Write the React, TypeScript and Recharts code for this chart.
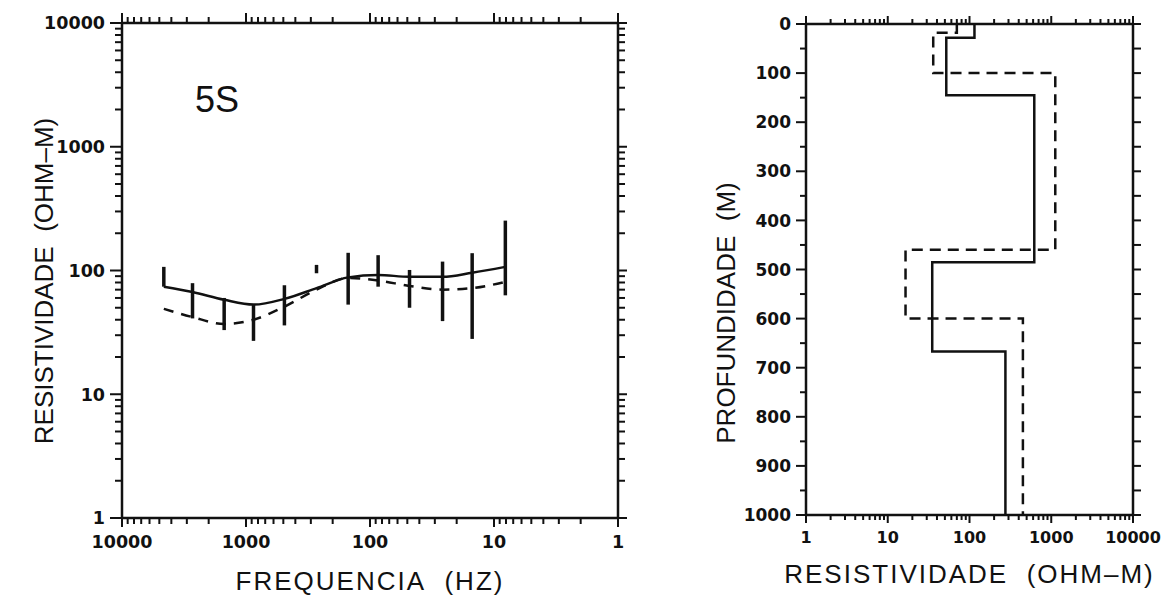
import React from 'react';
import { ComposedChart, Line, Scatter, ErrorBar, XAxis, YAxis } from 'recharts';

// sounding 5S - frequencies of the measured points (Hz)
const frequencies = [4600, 2700, 1500, 870, 490, 270, 150, 86, 48, 26, 15, 8.1];
// measured apparent resistivity, ends of each error bar (ohm-m)
const rhoLow = [74, 41, 33, 27, 36, 95, 53, 74, 50, 39, 28, 63];
const rhoHigh = [107, 79, 60, 53, 76, 111, 139, 133, 101, 118, 138, 253];
// model responses
const rhoSolidFit = [74, 67, 58, 53, 59, 72, 88, 92, 89, 89, 96, 107];
const rhoDashedFit = [49, 42, 37, 40, 51, 70, 87, 83, 75, 70, 72, 81];

// layered models: resistivity of each layer and depth of its top (m)
const solidLayerRho = [115, 52, 620, 35, 275];
const solidLayerTop = [0, 28, 145, 485, 667];
const dashedLayerRho = [70, 36, 1120, 16.5, 450];
const dashedLayerTop = [0, 18, 100, 460, 600];
const maxDepth = 1000;

// axes
const decades = [1, 10, 100, 1000, 10000];
const minorSteps = [2, 3, 4, 5, 6, 7, 8, 9];
const depthTicks = [0, 50, 100, 150, 200, 250, 300, 350, 400, 450, 500, 550, 600, 650, 700, 750, 800, 850, 900, 950, 1000];
const depthLabels = [0, 100, 200, 300, 400, 500, 600, 700, 800, 900, 1000];

const INK = '#111';
const TITLE_FONT = "'Liberation Sans', Arial, sans-serif";
const TICK_FONT = "'DejaVu Sans', sans-serif";

const logTicks = decades.flatMap((d, i) =>
  i < decades.length - 1 ? [d, ...minorSteps.map((m) => m * d)] : [d]
);
const isDecade = (v: number) => decades.includes(v);
const isHundred = (v: number) => depthLabels.includes(v);

const obsData = frequencies.map((f, i) => {
  const mid = Math.sqrt(rhoLow[i] * rhoHigh[i]);
  return { x: f, y: mid, err: [mid - rhoLow[i], rhoHigh[i] - mid] };
});
const solidFit = frequencies.map((f, i) => ({ x: f, y: rhoSolidFit[i] }));
const dashedFit = frequencies.map((f, i) => ({ x: f, y: rhoDashedFit[i] }));

const stepPoints = (rho: number[], tops: number[]) =>
  rho.flatMap((r, i) => [
    { x: r, y: tops[i] },
    { x: r, y: i + 1 < tops.length ? tops[i + 1] : maxDepth },
  ]);
const solidSteps = stepPoints(solidLayerRho, solidLayerTop);
const dashedSteps = stepPoints(dashedLayerRho, dashedLayerTop);

type Side = 'left' | 'right' | 'top' | 'bottom';
interface TickOpts {
  major: number;
  minor: number;
  isMajor: (v: number) => boolean;
  showLabel?: boolean;
  fontSize?: number;
  gap?: number;
}

const makeTick = (side: Side, o: TickOpts) => (props: any) => {
  const { x, y, payload } = props;
  const v = payload.value;
  const major = o.isMajor(v);
  const len = major ? o.major : o.minor;
  let line;
  if (side === 'left') line = <line x1={x - len} y1={y} x2={x} y2={y} />;
  else if (side === 'right') line = <line x1={x} y1={y} x2={x + len} y2={y} />;
  else if (side === 'top') line = <line x1={x} y1={y - len} x2={x} y2={y} />;
  else line = <line x1={x} y1={y} x2={x} y2={y + len} />;
  let label = null;
  if (o.showLabel && major) {
    const fs = o.fontSize || 16;
    const gap = o.gap || 0;
    const common = { fill: INK, fontFamily: TICK_FONT, fontWeight: 700, fontSize: fs, stroke: 'none' };
    if (side === 'left') {
      label = (
        <text x={x - gap} y={y} dy="0.36em" textAnchor="end" {...common}>
          {v}
        </text>
      );
    } else if (side === 'bottom') {
      label = (
        <text x={x} y={y + gap} textAnchor="middle" {...common}>
          {v}
        </text>
      );
    }
  }
  return (
    <g stroke={INK} strokeWidth={2}>
      {line}
      {label}
    </g>
  );
};

const hidden = () => <g />;

const axisLine = { stroke: INK, strokeWidth: 2.5 };

const bottomTitle = (text: string, dy: number, spacing: number) => (props: any) => {
  const { viewBox } = props;
  return (
    <text
      x={viewBox.x + viewBox.width / 2}
      y={viewBox.y + dy}
      textAnchor="middle"
      fill={INK}
      fontFamily={TITLE_FONT}
      fontSize={26}
      letterSpacing={spacing}
    >
      {text}
    </text>
  );
};

const sideTitle = (text: string, bx: number, cy: number) => () => (
  <text
    x={bx}
    y={cy}
    transform={`rotate(-90, ${bx}, ${cy})`}
    textAnchor="middle"
    fill={INK}
    fontFamily={TITLE_FONT}
    fontSize={26}
  >
    {text}
  </text>
);

function SoundingCurve() {
  return (
    <ComposedChart
      width={650}
      height={596}
      margin={{ top: 3, right: 12, bottom: 8, left: 2 }}
    >
      <XAxis
        dataKey="x"
        type="number"
        scale="log"
        domain={[1, 10000]}
        allowDataOverflow
        reversed
        ticks={logTicks}
        interval={0}
        height={70}
        tickLine={false}
        tickSize={0}
        tickMargin={0}
        axisLine={axisLine}
        tick={makeTick('bottom', { major: 9, minor: 6, isMajor: isDecade, showLabel: true, fontSize: 17.5, gap: 30 })}
        label={{ content: bottomTitle('FREQUENCIA\u00A0 (HZ)', 72, 2) }}
      />
      <XAxis
        xAxisId="top"
        orientation="top"
        dataKey="x"
        type="number"
        scale="log"
        domain={[1, 10000]}
        allowDataOverflow
        reversed
        ticks={logTicks}
        interval={0}
        height={20}
        tickLine={false}
        tickSize={0}
        tickMargin={0}
        axisLine={axisLine}
        tick={makeTick('top', { major: 10, minor: 6, isMajor: isDecade })}
      />
      <YAxis
        dataKey="y"
        type="number"
        scale="log"
        domain={[1, 10000]}
        allowDataOverflow
        ticks={logTicks}
        interval={0}
        width={120}
        tickLine={false}
        tickSize={0}
        tickMargin={0}
        axisLine={axisLine}
        tick={makeTick('left', { major: 12, minor: 7, isMajor: isDecade, showLabel: true, fontSize: 17.5, gap: 17 })}
        label={{ content: sideTitle('RESISTIVIDADE\u00A0 (OHM–M)', 53, 281) }}
      />
      <YAxis
        yAxisId="right"
        orientation="right"
        dataKey="y"
        type="number"
        scale="log"
        domain={[1, 10000]}
        allowDataOverflow
        ticks={logTicks}
        interval={0}
        width={20}
        tickLine={false}
        tickSize={0}
        tickMargin={0}
        axisLine={axisLine}
        tick={makeTick('right', { major: 9, minor: 7, isMajor: isDecade })}
      />
      <Line
        data={solidFit}
        dataKey="y"
        type="monotone"
        stroke={INK}
        strokeWidth={2.5}
        dot={false}
        isAnimationActive={false}
      />
      <Line
        data={dashedFit}
        dataKey="y"
        type="monotone"
        stroke={INK}
        strokeWidth={2.5}
        strokeDasharray="10 8"
        dot={false}
        isAnimationActive={false}
      />
      <Scatter data={obsData} fill={INK} shape={hidden} isAnimationActive={false}>
        <ErrorBar dataKey="err" direction="y" width={0} stroke={INK} strokeWidth={3.5} />
      </Scatter>
    </ComposedChart>
  );
}

function LayerModel() {
  return (
    <ComposedChart
      width={514}
      height={596}
      margin={{ top: 4, right: 11, bottom: 8, left: 0 }}
    >
      <XAxis
        dataKey="x"
        type="number"
        scale="log"
        domain={[1, 10000]}
        allowDataOverflow
        ticks={logTicks}
        interval={0}
        height={73}
        tickLine={false}
        tickSize={0}
        tickMargin={0}
        axisLine={axisLine}
        tick={makeTick('bottom', { major: 8, minor: 5, isMajor: isDecade, showLabel: true, fontSize: 16, gap: 28 })}
        label={{ content: bottomTitle('RESISTIVIDADE\u00A0 (OHM–M)', 68, 2) }}
      />
      <XAxis
        xAxisId="top"
        orientation="top"
        dataKey="x"
        type="number"
        scale="log"
        domain={[1, 10000]}
        allowDataOverflow
        ticks={logTicks}
        interval={0}
        height={20}
        tickLine={false}
        tickSize={0}
        tickMargin={0}
        axisLine={axisLine}
        tick={makeTick('top', { major: 8, minor: 5, isMajor: isDecade })}
      />
      <YAxis
        dataKey="y"
        type="number"
        domain={[0, maxDepth]}
        allowDataOverflow
        reversed
        ticks={depthTicks}
        interval={0}
        width={156}
        tickLine={false}
        tickSize={0}
        tickMargin={0}
        axisLine={axisLine}
        tick={makeTick('left', { major: 10, minor: 6, isMajor: isHundred, showLabel: true, fontSize: 17, gap: 15 })}
        label={{ content: sideTitle('PROFUNDIDADE\u00A0 (M)', 85, 313) }}
      />
      <YAxis
        yAxisId="right"
        orientation="right"
        dataKey="y"
        type="number"
        domain={[0, maxDepth]}
        allowDataOverflow
        reversed
        ticks={depthTicks}
        interval={0}
        width={20}
        tickLine={false}
        tickSize={0}
        tickMargin={0}
        axisLine={axisLine}
        tick={makeTick('right', { major: 8, minor: 8, isMajor: isHundred })}
      />
      <Scatter
        data={solidSteps}
        fill={INK}
        shape={hidden}
        line={{ stroke: INK, strokeWidth: 2.5 }}
        lineType="joint"
        isAnimationActive={false}
      />
      <Scatter
        data={dashedSteps}
        fill={INK}
        shape={hidden}
        line={{ stroke: INK, strokeWidth: 2.5, strokeDasharray: '11 7' }}
        lineType="joint"
        isAnimationActive={false}
      />
    </ComposedChart>
  );
}

export default function App() {
  return (
    <div style={{ position: 'absolute', left: 0, top: 0, width: 1164, height: 596, background: '#fff' }}>
      <div style={{ position: 'absolute', left: 0, top: 0 }}>
        <SoundingCurve />
      </div>
      <div style={{ position: 'absolute', left: 650, top: 0 }}>
        <LayerModel />
      </div>
      <svg
        width={120}
        height={60}
        style={{ position: 'absolute', left: 180, top: 70, pointerEvents: 'none' }}
      >
        <text x={15} y={42} fill={INK} fontFamily={TITLE_FONT} fontSize={36}>
          5S
        </text>
      </svg>
    </div>
  );
}
